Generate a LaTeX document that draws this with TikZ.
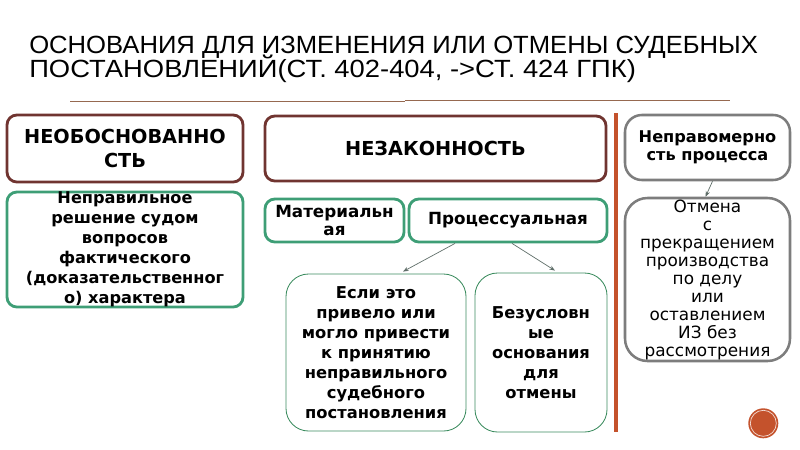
\documentclass[tikz,border=0pt]{standalone}
\usepackage{fontspec}
\setmainfont{DejaVu Sans}
\newfontfamily\titlefont[FakeStretch=1.03]{Liberation Sans}
\newfontfamily\titlefontb[FakeStretch=1.1]{Liberation Sans}
\usetikzlibrary{arrows.meta}
\definecolor{brownbox}{RGB}{112,52,48}
\definecolor{greenbox}{RGB}{62,158,118}
\definecolor{greenthin}{RGB}{60,140,95}
\definecolor{graybox}{RGB}{125,125,125}
\definecolor{rust}{RGB}{196,82,44}
\definecolor{rulecol}{RGB}{150,105,80}
\definecolor{arrowgray}{RGB}{95,110,105}
\newcommand{\px}{0.025cm}

\begin{document}
\begin{tikzpicture}[x=\px,y=-\px,
    box/.style={rectangle,inner sep=0pt,align=center},
    brownframe/.style={box,draw=brownbox,line width=2pt,rounded corners=7pt,
      font=\bfseries\fontsize{13.7}{17}\selectfont},
    greenframe/.style={box,draw=greenbox,line width=2pt,rounded corners=7pt},
    thinframe/.style={box,draw=greenthin,line width=0.6pt,rounded corners=16pt,
      font=\bfseries\fontsize{11.6}{14.2}\selectfont},
    grayframe/.style={box,draw=graybox,line width=1.8pt,rounded corners=12pt},
    arr/.style={draw=arrowgray,line width=0.5pt,-{Stealth[length=4pt,width=3pt]}}]
  \useasboundingbox (0,0) rectangle (800,449);
  % title
  \node[anchor=base west,inner sep=0pt,font=\titlefont\fontsize{17.7}{18}\selectfont]
    (title1) at (29,53.3) {ОСНОВАНИЯ ДЛЯ ИЗМЕНЕНИЯ ИЛИ ОТМЕНЫ СУДЕБНЫХ};
  \node[anchor=base west,inner sep=0pt,font=\titlefontb\fontsize{17.7}{18}\selectfont]
    (title2) at (29,77.3) {ПОСТАНОВЛЕНИЙ(СТ. 402-404, ->СТ. 424 ГПК)};
  \draw[rulecol,line width=0.6pt] (70,101.5) -- (405,101.5);
  \draw[rulecol,line width=0.6pt] (405,100.5) -- (730,100.5);
  \draw[rust,line width=2.8pt] (616,113) -- (616,432);
  % top row
  \node[brownframe,minimum width=236*\px,minimum height=67*\px] (neob) at (125,148.5)
    {НЕОБОСНОВАННО\\СТЬ};
  \node[brownframe,minimum width=341*\px,minimum height=65*\px] (nezak) at (435.5,148.5)
    {НЕЗАКОННОСТЬ};
  \node[grayframe,minimum width=165*\px,minimum height=65*\px,
    font=\bfseries\fontsize{11.5}{13}\selectfont] (neprav) at (707.5,147.5)
    {Неправомерно\\сть процесса};
  % second row
  \node[greenframe,minimum width=236*\px,minimum height=111*\px,
    font=\bfseries\fontsize{11.5}{14.2}\selectfont] (nepravil) at (125,249.5)
    {Неправильное\\решение судом\\вопросов\\фактического\\(доказательственног\\о) характера};
  \node[greenframe,minimum width=139*\px,minimum height=43*\px,
    font=\bfseries\fontsize{11.9}{12.8}\selectfont] (mater) at (334.5,220.5)
    {Материальн\\ая};
  \node[greenframe,minimum width=198*\px,minimum height=43*\px,
    font=\bfseries\fontsize{11.9}{12.8}\selectfont] (proc) at (508,220.5)
    {Процессуальная};
  \node[grayframe,rounded corners=16pt,minimum width=165*\px,minimum height=163*\px,
    font=\fontsize{12}{12.8}\selectfont] (otmena) at (707.5,279.5)
    {Отмена\\с\\прекращением\\производства\\по делу\\или\\оставлением\\ИЗ без\\рассмотрения};
  % third row
  \node[thinframe,minimum width=180*\px,minimum height=157*\px] (esli) at (376,352.5)
    {Если это\\привело или\\могло привести\\к принятию\\неправильного\\судебного\\постановления};
  \node[thinframe,minimum width=132*\px,minimum height=159*\px] (bezus) at (541,352.5)
    {Безусловн\\ые\\основания\\для\\отмены};
  % arrows
  \draw[arr] ([xshift=-53*\px]proc.south) -- ([xshift=27*\px,yshift=2*\px]esli.north);
  \draw[arr] ([xshift=4*\px]proc.south) -- ([xshift=14*\px,yshift=2*\px]bezus.north);
  \draw[arr] ([xshift=5*\px]neprav.south) -- ([xshift=-2*\px]otmena.north);
  % bullet
  \fill[rust] (763.3,423.3) circle (15);
  \draw[white!80!rust,line width=0.5pt] (763.3,423.3) circle (13);
\end{tikzpicture}
\end{document}
